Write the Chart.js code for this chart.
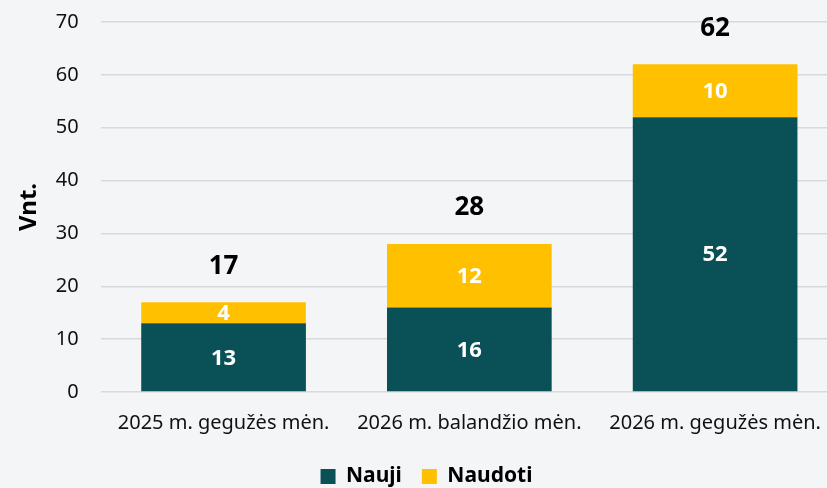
<!DOCTYPE html>
<html><head><meta charset="utf-8">
<script src="https://cdn.jsdelivr.net/npm/chart.js@4/dist/chart.umd.min.js"></script>
<style>
html,body{margin:0;padding:0;background:#F4F5F7;overflow:hidden;}
#wrap{width:838px;height:497px;position:relative;}
</style></head>
<body><div id="wrap"><canvas id="c"></canvas></div>
<script>
const categories = ["2025 m. gegužės mėn.", "2026 m. balandžio mėn.", "2026 m. gegužės mėn."];
const nauji = [13, 16, 52];
const naudoti = [4, 12, 10];
const seriesNames = ["Nauji", "Naudoti"];
const yTicks = [0, 10, 20, 30, 40, 50, 60, 70];
const FONT = "'Noto Sans', 'Open Sans', sans-serif";

const bgPlugin = {
  id: 'bg',
  beforeDraw(chart){ const c=chart.ctx; c.save(); c.fillStyle='#F4F5F7'; c.fillRect(0,0,chart.width,chart.height); c.restore(); }
};
const labelPlugin = {
  id: 'labels',
  afterDatasetsDraw(chart){
    const ctx = chart.ctx;
    ctx.save();
    ctx.textAlign='center'; ctx.textBaseline='middle';
    chart.data.datasets.forEach((ds,i)=>{
      const meta = chart.getDatasetMeta(i);
      meta.data.forEach((bar,j)=>{
        const y = (bar.y + bar.base)/2;
        ctx.fillStyle='#FFFFFF';
        ctx.font = "bold 22px " + FONT;
        ctx.fillText(String(ds.data[j]), bar.x, y+1);
      });
    });
    const top = chart.getDatasetMeta(chart.data.datasets.length-1);
    top.data.forEach((bar,j)=>{
      const total = nauji[j] + naudoti[j];
      ctx.fillStyle='#000000';
      ctx.font = "bold 26px " + FONT;
      ctx.fillText(String(total), bar.x, chart.scales.y.getPixelForValue(total) - 36);
    });
    ctx.restore();
  }
};

new Chart(document.getElementById('c'), {
  type: 'bar',
  data: {
    labels: categories,
    datasets: [
      {label: seriesNames[0], data: nauji, backgroundColor: '#0A5057', barPercentage: 0.67, categoryPercentage: 1},
      {label: seriesNames[1], data: naudoti, backgroundColor: '#FFC000', barPercentage: 0.67, categoryPercentage: 1}
    ]
  },
  plugins: [bgPlugin, labelPlugin],
  options: {
    responsive: true, maintainAspectRatio: false, animation: false,
    devicePixelRatio: 1,
    layout: {padding: {top: 22, left: 15, right: 0, bottom: 0}},
    plugins: {
      legend: {
        position: 'bottom',
        labels: {boxWidth: 15, boxHeight: 15, color: '#000', font: {family: FONT, size: 21, weight: 'bold'}, padding: 20}
      },
      tooltip: {enabled: false}
    },
    scales: {
      x: {
        stacked: true,
        grid: {display: false},
        border: {display: false},
        ticks: {color: '#111', font: {family: FONT, size: 20}, padding: 11, maxRotation: 0},
        afterFit(s){ s.height = 54; }
      },
      y: {
        stacked: true, min: 0, max: 70,
        afterBuildTicks(s){ s.ticks = yTicks.map(v=>({value:v})); },
        grid: {color: '#D9D9D9', lineWidth: 1.5, drawTicks: true, tickLength: 20, tickColor: 'rgba(0,0,0,0)'},
        border: {display: false},
        ticks: {color: '#111', font: {family: FONT, size: 20}, padding: 2},
        title: {display: true, text: 'Vnt.', color: '#000', font: {family: FONT, size: 24, weight: 'bold'}, padding: {top: 0, bottom: 10}}
      }
    }
  }
});
</script></body></html>
